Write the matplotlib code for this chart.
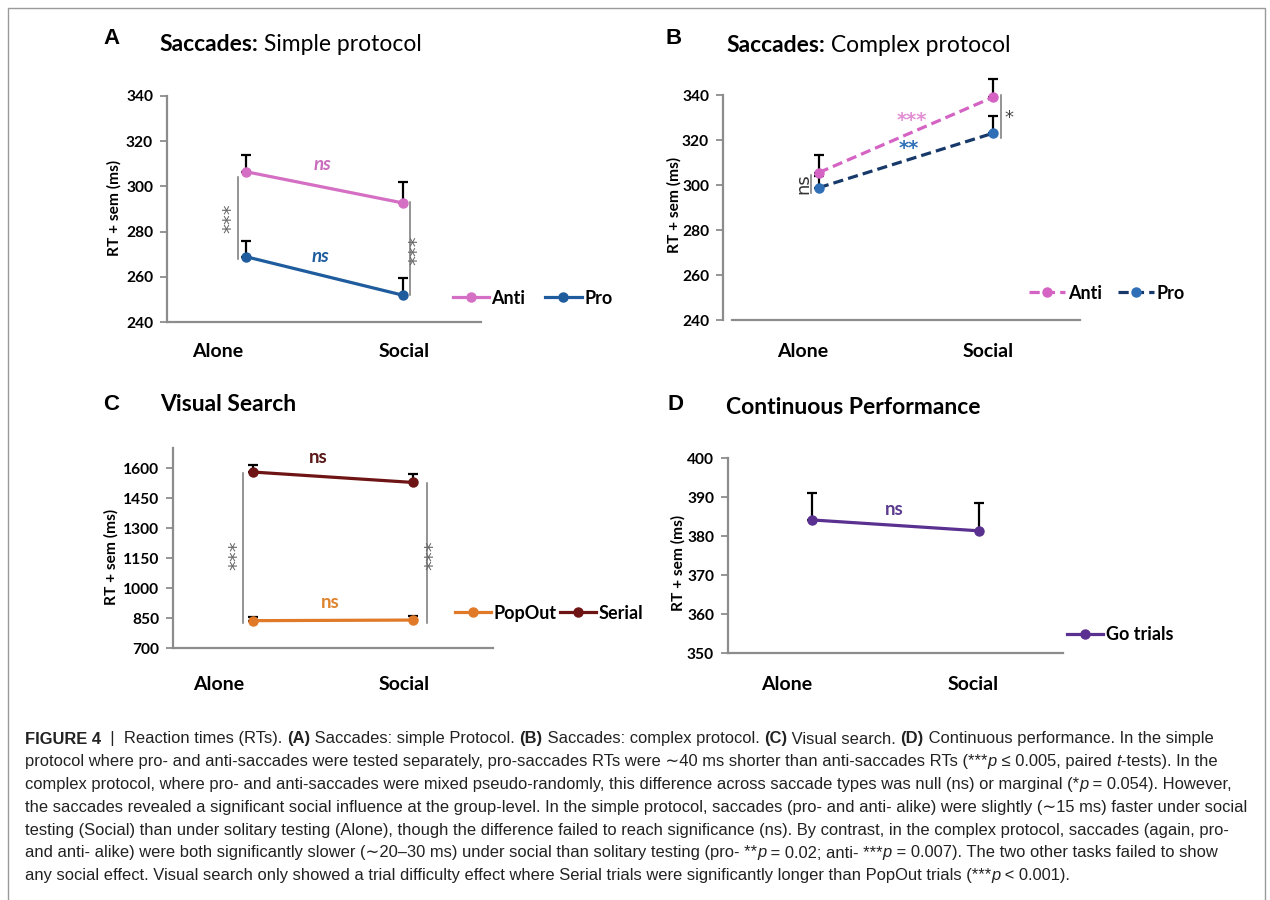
import matplotlib
matplotlib.use("Agg")
import matplotlib.pyplot as plt
from matplotlib.patches import Rectangle
from matplotlib.text import Annotation

plt.rcParams["font.family"] = ["Lato", "DejaVu Sans"]

conditions = ["Alone", "Social"]
xpos = [0, 1]

# A - saccades, simple protocol
a_anti = [306.5, 292.7]
a_anti_sem = [7.5, 9.3]
a_pro = [269.0, 252.0]
a_pro_sem = [7.0, 7.5]

# B - saccades, complex protocol
b_anti = [305.5, 339.0]
b_anti_sem = [8.0, 8.0]
b_pro = [298.8, 323.0]
b_pro_sem = [5.0, 7.8]

# C - visual search
c_popout = [838, 841]
c_popout_sem = [20, 19]
c_serial = [1580, 1528]
c_serial_sem = [36, 42]

# D - continuous performance
d_go = [384.2, 381.4]
d_go_sem = [6.8, 7.1]

W, H = 1270, 900
fig = plt.figure(figsize=(12.7, 9), dpi=100)

# grey frame round the figure
fig.add_artist(Rectangle((8 / W, -0.05), (1265 - 8) / W, 1.05 - 8 / H,
                         transform=fig.transFigure, fill=False,
                         edgecolor="#9a9a9a", lw=1.0))

AXC = "#8c8c8c"


def make_ax(left, top, right, bottom, ylim, yticks, xlim=(-0.5, 1.5)):
    ax = fig.add_axes([left / W, 1 - bottom / H, (right - left) / W, (bottom - top) / H])
    ax.spines["top"].set_visible(False)
    ax.spines["right"].set_visible(False)
    for s in ["left", "bottom"]:
        ax.spines[s].set_color(AXC)
        ax.spines[s].set_linewidth(1.6)
    ax.set_xlim(*xlim)
    ax.set_ylim(*ylim)
    ax.set_xticks([])
    ax.set_yticks(yticks)
    ax.set_yticklabels([str(t) for t in yticks], fontweight="bold", fontsize=11.2)
    ax.tick_params(axis="y", direction="out", length=5, width=1.3, color=AXC, pad=5)
    ax.set_facecolor("none")
    return ax


def series(ax, y, sem, color, mcolor=None, ls="-"):
    mcolor = mcolor or color
    eb = ax.errorbar(xpos, y, yerr=[[0, 0], sem], fmt="none", ecolor="black",
                     elinewidth=1.6, capsize=3.5, capthick=1.6, zorder=2)
    for art in list(eb.lines[1]) + list(eb.lines[2]):
        art.set_clip_on(False)
    ln, = ax.plot(xpos, y, ls=ls, color=color, lw=2.3, marker="o", ms=6.5,
                  mfc=mcolor, mec=mcolor, clip_on=False, zorder=3)
    return ln


def sig(ax, x, y0, y1, label, tx, ty, rot=90, color="#666666", size=14):
    ax.plot([x, x], [y0, y1], color="#777777", lw=1.1, clip_on=False)
    ax.text(tx, ty, label, rotation=rot, color=color, fontsize=size,
            ha="center", va="center", family=["DejaVu Sans"])


def legend(ax, handles, labels, ax_x, ax_y, spacing=1.2):
    ax.legend(handles, labels, loc="center left", bbox_to_anchor=(ax_x, ax_y),
              ncol=len(handles), frameon=False, borderpad=0, borderaxespad=0,
              handlelength=2.0, handletextpad=0.15, columnspacing=spacing,
              prop={"weight": "bold", "size": 13})


def run_text(x, y_base, parts, **kw):
    # pieces of one line, set one after the other on a shared baseline
    prev = None
    for text, weight, style in parts:
        if prev is None:
            prev = Annotation(text, xy=(x, H - y_base), xycoords="figure pixels",
                              ha="left", va="baseline", fontweight=weight, style=style, **kw)
        else:
            prev = Annotation(text, xy=(1, H - y_base), xycoords=(prev, "figure pixels"),
                              ha="left", va="baseline", fontweight=weight, style=style, **kw)
        fig.add_artist(prev)


def panel_text(letter, lx, ly, ylab_x, ylab_y, alone_x, social_x, cat_y):
    fig.text(lx / W, 1 - ly / H, letter, fontsize=16, fontweight="bold",
             family=["Liberation Sans"], ha="center", va="center")
    fig.text(ylab_x / W, 1 - ylab_y / H, "RT + sem (ms)", rotation=90, fontsize=11.2,
             fontweight="bold", ha="center", va="center")
    for cx, name in zip([alone_x, social_x], conditions):
        fig.text(cx / W, 1 - cat_y / H, name, fontsize=14, fontweight="bold",
                 ha="center", va="center")


TS = 16.5

# ---------- A ----------
axA = make_ax(167, 95.7, 481, 322.3, (240, 340), [240, 260, 280, 300, 320, 340])
la = series(axA, a_anti, a_anti_sem, "#d46fc4")
lp = series(axA, a_pro, a_pro_sem, "#1f5c9e")
axA.text(0.49, 309.5, "ns", color="#c96cbd", style="italic", fontweight="bold",
         fontsize=13.5, ha="center", va="center")
axA.text(0.48, 269, "ns", color="#1f5c9e", style="italic", fontweight="bold",
         fontsize=13.5, ha="center", va="center")
sig(axA, -0.05, 268, 304, "***", -0.095, 286)
sig(axA, 1.05, 252, 293, "***", 1.092, 272)
legend(axA, [la, lp], ["Anti", "Pro"], 0.91, 0.107, spacing=1.1)
run_text(159, 51, [("Saccades:", "bold", "normal"), (" Simple protocol", "normal", "normal")],
         fontsize=TS)
panel_text("A", 112, 38, 114, 208, 218, 404, 351.7)

# ---------- B ----------
axB = make_ax(723, 95, 1080, 320, (240, 340), [240, 260, 280, 300, 320, 340], xlim=(-0.55, 1.5))
axB.spines["bottom"].set_bounds(-0.5, 1.5)
dash = (0, (3.2, 1.6))
lb_a = series(axB, b_anti, b_anti_sem, "#d463c4", ls=dash)
lb_p = series(axB, b_pro, b_pro_sem, "#17396a", mcolor="#2e6fb7", ls=dash)
sig(axB, -0.045, 296.4, 304.4, "ns", -0.087, 300.5, color="#333333", size=13)
sig(axB, 1.046, 321, 340, "*", 1.09, 330, rot=0, color="#444444", size=13)
axB.text(0.535, 328.5, "***", color="#e28fd4", fontsize=14, fontweight="bold",
         ha="center", va="center", family=["DejaVu Sans"])
axB.text(0.518, 316.3, "**", color="#2e6fb7", fontsize=14, fontweight="bold",
         ha="center", va="center", family=["DejaVu Sans"])
legend(axB, [lb_a, lb_p], ["Anti", "Pro"], 0.857, 0.12, spacing=0.9)
run_text(726, 52, [("Saccades:", "bold", "normal"), (" Complex protocol", "normal", "normal")],
         fontsize=TS)
panel_text("B", 674, 38, 674, 205, 803, 988, 351.7)

# ---------- C ----------
axC = make_ax(173, 448, 493, 648.3, (700, 1700), [700, 850, 1000, 1150, 1300, 1450, 1600])
lc_p = series(axC, c_popout, c_popout_sem, "#e07a28")
lc_s = series(axC, c_serial, c_serial_sem, "#6e1414")
axC.text(0.406, 1651, "ns", color="#5a1818", fontsize=13.5, fontweight="bold",
         ha="center", va="center")
axC.text(0.48, 927, "ns", color="#df842e", fontsize=13.5, fontweight="bold",
         ha="center", va="center")
sig(axC, -0.06, 828, 1575, "***", -0.10, 1166)
sig(axC, 1.089, 828, 1525, "***", 1.123, 1166)
legend(axC, [lc_p, lc_s], ["PopOut", "Serial"], 0.881, 0.176, spacing=0.15)
run_text(160, 411, [("Visual Search", "bold", "normal")], fontsize=TS)
panel_text("C", 111, 405, 111, 557, 219, 404, 685)

# ---------- D ----------
axD = make_ax(728, 458.3, 1063, 653.3, (350, 400), [350, 360, 370, 380, 390, 400])
ld = series(axD, d_go, d_go_sem, "#5a3190")
axD.text(0.49, 386.8, "ns", color="#5b3c8e", fontsize=13.5, fontweight="bold",
         ha="center", va="center")
legend(axD, [ld], ["Go trials"], 1.011, 0.094)
run_text(726, 414, [("Continuous Performance", "bold", "normal")], fontsize=TS)
panel_text("D", 675, 405, 678, 563, 787, 973, 685)

# ---------- caption ----------
R, B_, I = ("normal", "normal"), ("bold", "normal"), ("normal", "italic")
caption = [
    [("FIGURE 4", B_), ("  |  Reaction times (RTs). ", R), ("(A)", B_),
     (" Saccades: simple Protocol. ", R), ("(B)", B_), (" Saccades: complex protocol. ", R),
     ("(C)", B_), (" Visual search. ", R), ("(D)", B_),
     (" Continuous performance. In the simple", R)],
    [("protocol where pro- and anti-saccades were tested separately, pro-saccades RTs were \u223c40 ms "
      "shorter than anti-saccades RTs (***", R), ("p", I), (" \u2264 0.005, paired ", R), ("t", I),
     ("-tests). In the", R)],
    [("complex protocol, where pro- and anti-saccades were mixed pseudo-randomly, this difference "
      "across saccade types was null (ns) or marginal (*", R), ("p", I), (" = 0.054). However,", R)],
    [("the saccades revealed a significant social influence at the group-level. In the simple protocol, "
      "saccades (pro- and anti- alike) were slightly (\u223c15 ms) faster under social", R)],
    [("testing (Social) than under solitary testing (Alone), though the difference failed to reach "
      "significance (ns). By contrast, in the complex protocol, saccades (again, pro-", R)],
    [("and anti- alike) were both significantly slower (\u223c20\u201330 ms) under social than solitary "
      "testing (pro- **", R), ("p", I), (" = 0.02; anti- ***", R), ("p", I),
     (" = 0.007). The two other tasks failed to show", R)],
    [("any social effect. Visual search only showed a trial difficulty effect where Serial trials were "
      "significantly longer than PopOut trials (***", R), ("p", I), (" < 0.001).", R)],
]
for i, parts in enumerate(caption):
    run_text(25, 743.5 + 22.8 * i, [(t, w, s) for t, (w, s) in parts],
             fontsize=11.9, family=["Liberation Sans", "DejaVu Sans"], color="#222222")

fig.savefig("out.png", dpi=100, facecolor="white")
